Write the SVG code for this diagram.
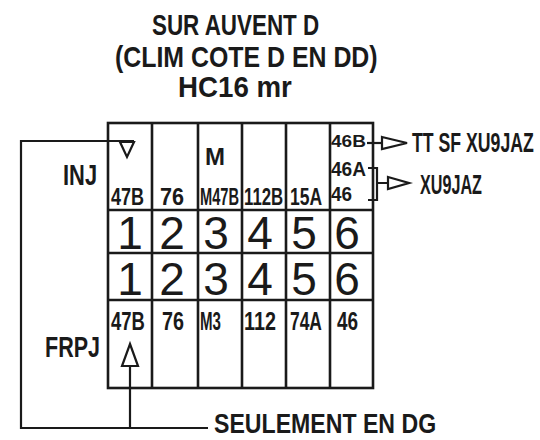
<svg xmlns="http://www.w3.org/2000/svg" width="540" height="440" viewBox="0 0 540 440">
<style>
.t{font-family:"Liberation Sans",Arial,sans-serif;fill:#1a1a1a;font-weight:bold}
.d{font-family:"Liberation Sans",Arial,sans-serif;fill:#1a1a1a;font-size:46px;text-anchor:middle}
.g{stroke:#1a1a1a;stroke-width:2.6;fill:none}
.c{stroke:#1a1a1a;stroke-width:2.2;fill:none}
.a{stroke:#1a1a1a;stroke-width:2.2;fill:#fff}
</style>
<rect width="540" height="440" fill="#fff"/>
<g id="title">
<text class="t" font-size="30" transform="translate(152,35) scale(0.747,1)">SUR AUVENT D</text>
<text class="t" font-size="30" transform="translate(115,67) scale(0.83,1)">(CLIM COTE D EN DD)</text>
<text class="t" font-size="29" transform="translate(178,97) scale(0.955,1)">HC16 mr</text>
</g>
<g id="table">
<rect class="g" x="108" y="123" width="265" height="265"/>
<path class="g" d="M108,210H373M108,253H373M108,300H373M152,123V388M198,123V388M242,123V388M286,123V388M330,123V388"/>
</g>
<g id="row-inj">
<text class="t" font-size="30" transform="translate(63,185) scale(0.73,1)">INJ</text>
<text class="t" font-size="24" transform="translate(111,205) scale(0.75,1)">47B</text>
<text class="t" font-size="24" transform="translate(160,205) scale(0.9,1)">76</text>
<text class="t" font-size="24" transform="translate(205,165)">M</text>
<text class="t" font-size="24" transform="translate(200,205) scale(0.61,1)">M47B</text>
<text class="t" font-size="24" transform="translate(244,205) scale(0.7,1)">112B</text>
<text class="t" font-size="24" transform="translate(290,205) scale(0.73,1)">15A</text>
<text class="t" font-size="17" transform="translate(331,147) scale(1.12,1)">46B</text>
<text class="t" font-size="21" transform="translate(331,176) scale(0.91,1)">46A</text>
<text class="t" font-size="21" transform="translate(331,201) scale(0.9,1)">46</text>
</g>
<g id="row-1">
<text class="d" x="130" y="249">1</text><text class="d" x="172" y="249">2</text><text class="d" x="216" y="249">3</text><text class="d" x="260" y="249">4</text><text class="d" x="304" y="249">5</text><text class="d" x="347" y="249">6</text>
</g>
<g id="row-2">
<text class="d" x="130" y="295">1</text><text class="d" x="172" y="295">2</text><text class="d" x="216" y="295">3</text><text class="d" x="260" y="295">4</text><text class="d" x="304" y="295">5</text><text class="d" x="347" y="295">6</text>
</g>
<g id="row-frpj">
<text class="t" font-size="30" transform="translate(45,357) scale(0.717,1)">FRPJ</text>
<text class="t" font-size="26" transform="translate(111,330) scale(0.71,1)">47B</text>
<text class="t" font-size="26" transform="translate(162,330) scale(0.76,1)">76</text>
<text class="t" font-size="26" transform="translate(200,330) scale(0.58,1)">M3</text>
<text class="t" font-size="26" transform="translate(244,330) scale(0.76,1)">112</text>
<text class="t" font-size="26" transform="translate(290,330) scale(0.67,1)">74A</text>
<text class="t" font-size="26" transform="translate(337,330) scale(0.73,1)">46</text>
</g>
<g id="connectors">
<path class="c" d="M134,141H21V428H208"/>
<path class="a" d="M120,142H134L127,157Z"/>
<path class="c" d="M130,428V366"/>
<path class="a" d="M130,344L138,366H122Z"/>
<path class="c" d="M367,143H382"/>
<path class="a" d="M382,137L407,143L382,149Z"/>
<path class="c" d="M368,168H377V200H368M377,183H388"/>
<path class="a" d="M388,177L409,183L388,189Z"/>
</g>
<g id="labels">
<text class="t" font-size="28" transform="translate(412,152) scale(0.632,1)">TT SF XU9JAZ</text>
<text class="t" font-size="28" transform="translate(420,194) scale(0.577,1)">XU9JAZ</text>
<text class="t" font-size="28" transform="translate(214,433) scale(0.826,1)">SEULEMENT EN DG</text>
</g>
</svg>
